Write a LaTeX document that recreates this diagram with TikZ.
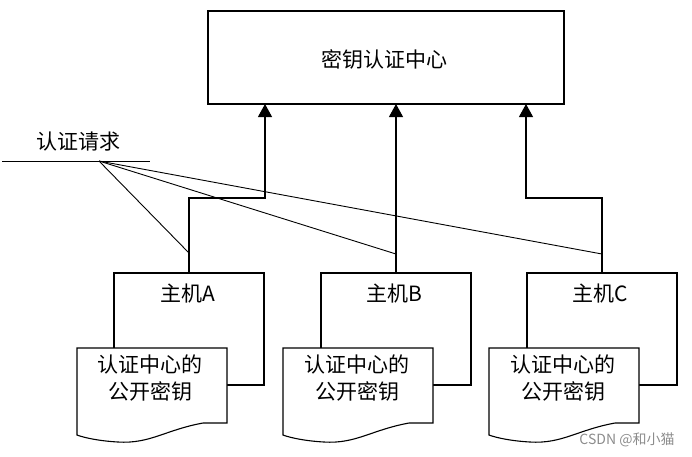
\documentclass[tikz,border=0pt]{standalone}
\usepackage{fontspec}
\newfontfamily\cjk{Noto Sans CJK SC}
\usetikzlibrary{arrows.meta}
\tikzset{
  ln/.style={line width=1.1pt, draw=black},
  thin/.style={line width=0.9pt, draw=black},
  arr/.style={ln, -{Triangle[width=14pt,length=13pt]}},
  lbl/.style={font=\cjk\fontsize{21}{27}\selectfont, inner sep=0pt, align=center},
  hostbox/.style={ln, rectangle, minimum width=150pt, minimum height=112pt, inner sep=0pt},
  docpic/.pic={
    \path[ln, fill=white] (0,0) -- (150,0) -- (150,75) -- (126,75)
      .. controls (88,82) and (73,96) .. (41,94)
      .. controls (23,93) and (8,90) .. (0,87) -- cycle;
  }
}
\begin{document}
\begin{tikzpicture}[x=1pt,y=-1pt]
\useasboundingbox (0,0) rectangle (692,456);
% top box
\node[ln, rectangle, minimum width=356pt, minimum height=93pt, inner sep=0pt] (top) at (386,57.5) {};
\node[lbl] (toptext) at (384,59) {密钥认证中心};
% hosts
\node[hostbox] (hA) at (189,329) {};
\node[hostbox] (hB) at (396,329) {};
\node[hostbox] (hC) at (602,329) {};
\node[lbl] (hAt) at (188,294) {主机A};
\node[lbl] (hBt) at (394,294) {主机B};
\node[lbl] (hCt) at (600,294) {主机C};
% documents
\pic (dA) at (77,348) {docpic};
\pic (dB) at (283,348) {docpic};
\pic (dC) at (489,348) {docpic};
\node[lbl] (dAt) at (150,378.5) {认证中心的\\公开密钥};
\node[lbl] (dBt) at (357,378.5) {认证中心的\\公开密钥};
\node[lbl] (dCt) at (563,378.5) {认证中心的\\公开密钥};
% arrow targets
\coordinate (tA) at (265,104);
\coordinate (tB) at (396,104);
\coordinate (tC) at (526,104);
\draw[arr] (hA.north) -- (189,198) -| (tA);
\draw[arr] (hB.north) -- (tB);
\draw[arr] (hC.north) -- (602,198) -| (tC);
% request
\node[lbl] (req) at (78,142) {认证请求};
\coordinate (rl) at (2,161);
\coordinate (rr) at (150,161);
\draw[thin] (rl) -- (rr);
\coordinate (rq) at (99,161);
\coordinate (pA) at (189,253);
\coordinate (pB) at (396,254);
\coordinate (pC) at (602,254);
\draw[thin] (rq) -- (pA);
\draw[thin] (rq) -- (pB);
\draw[thin] (rq) -- (pC);
% watermark
\node[font=\cjk\fontsize{14}{16}\selectfont, text=black!45, inner sep=0pt] (wm) at (627,440) {CSDN @和小猫};
\end{tikzpicture}
\end{document}
